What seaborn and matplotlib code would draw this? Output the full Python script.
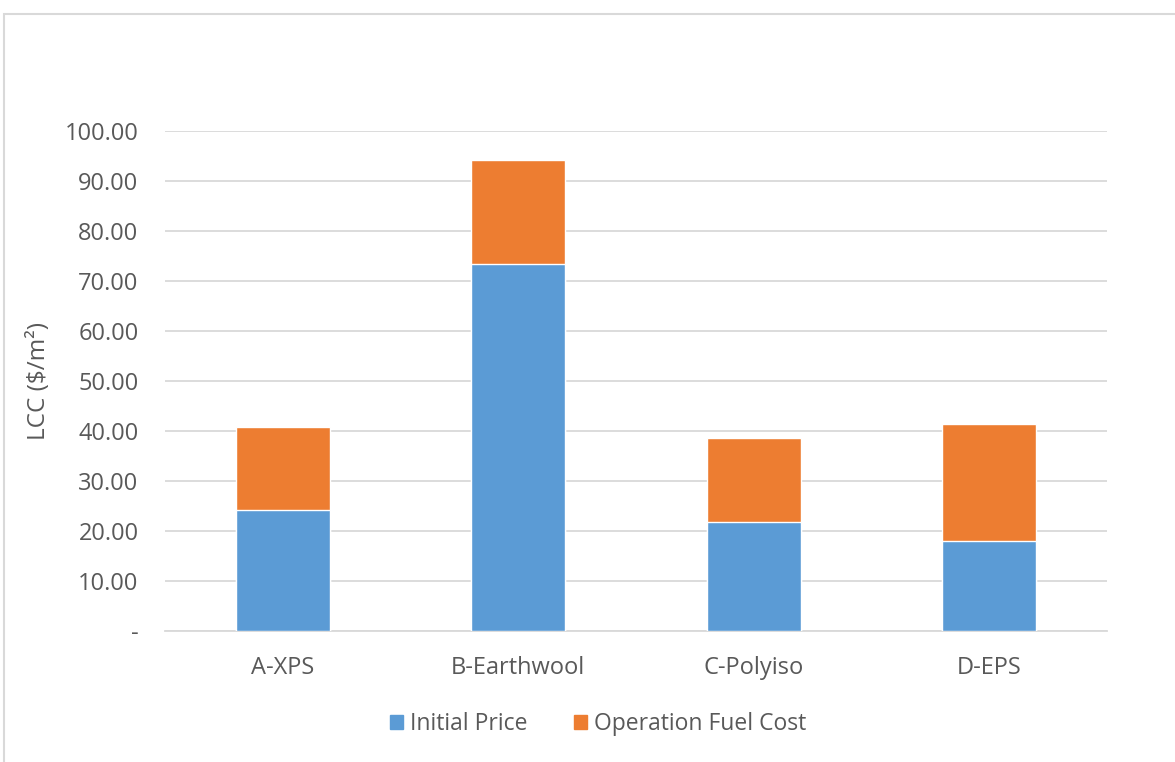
import numpy as np
import pandas as pd
import matplotlib
matplotlib.use("Agg")
import matplotlib.pyplot as plt
import seaborn as sns
from matplotlib.patches import Patch, Rectangle

materials = ["A-XPS", "B-Earthwool", "C-Polyiso", "D-EPS"]
initial_price = [24.1, 73.4, 21.7, 17.9]
operation_fuel_cost = [16.6, 20.9, 16.9, 23.5]

df = pd.DataFrame({"Material": materials,
                   "Initial Price": initial_price,
                   "Operation Fuel Cost": operation_fuel_cost})
df["Total"] = df["Initial Price"] + df["Operation Fuel Cost"]

sns.set_style("white")
plt.rcParams['font.family'] = ['Open Sans', 'DejaVu Sans']

blue = "#5B9BD5"
orange = "#ED7D31"
grey_txt = "#595959"

fig = plt.figure(figsize=(11.75, 7.62), dpi=100)
ax = fig.add_axes([0.1404, 0.1723, 0.8017, 0.6557])

# stacked: draw totals first, initial price on top
sns.barplot(data=df, x="Material", y="Total", color=orange, width=0.4,
            saturation=1, ax=ax, zorder=3)
sns.barplot(data=df, x="Material", y="Initial Price", color=blue, width=0.4,
            saturation=1, ax=ax, zorder=3)

ax.set_ylim(0, 100)
ax.set_xlim(-0.5, 3.5)
ticks = np.arange(0, 101, 10)
ax.set_yticks(ticks)
ax.set_yticklabels(["-"] + [f"{t:.2f}" for t in ticks[1:]])
ax.yaxis.grid(True, color="#D9D9D9", linewidth=1.3, zorder=0)
ax.set_axisbelow(True)
for s in ["top", "right", "left"]:
    ax.spines[s].set_visible(False)
ax.spines["bottom"].set_color("#D9D9D9")
ax.spines["bottom"].set_linewidth(1.3)
ax.tick_params(axis="both", length=0, labelsize=17, colors=grey_txt)
ax.tick_params(axis="y", pad=19)
ax.tick_params(axis="x", pad=18)
ax.set_xlabel("")
ax.set_ylabel("LCC ($/m\u00b2)", fontsize=17.5, color=grey_txt, labelpad=10)

handles = [Patch(color=blue, label="Initial Price"),
           Patch(color=orange, label="Operation Fuel Cost")]
fig.legend(handles=handles, loc="center", bbox_to_anchor=(0.509, 0.05), ncol=2,
           frameon=False, fontsize=16.5, labelcolor=grey_txt,
           handlelength=0.6, handleheight=0.6, handletextpad=0.3, columnspacing=2.0)

# chart-area border
fig.patches.append(Rectangle((4 / 1175, -0.01), 1.01, (762 - 14) / 762 + 0.01,
                             transform=fig.transFigure, fill=False,
                             edgecolor="#D9D9D9", linewidth=1.5))

fig.savefig("out.png", dpi=100)
